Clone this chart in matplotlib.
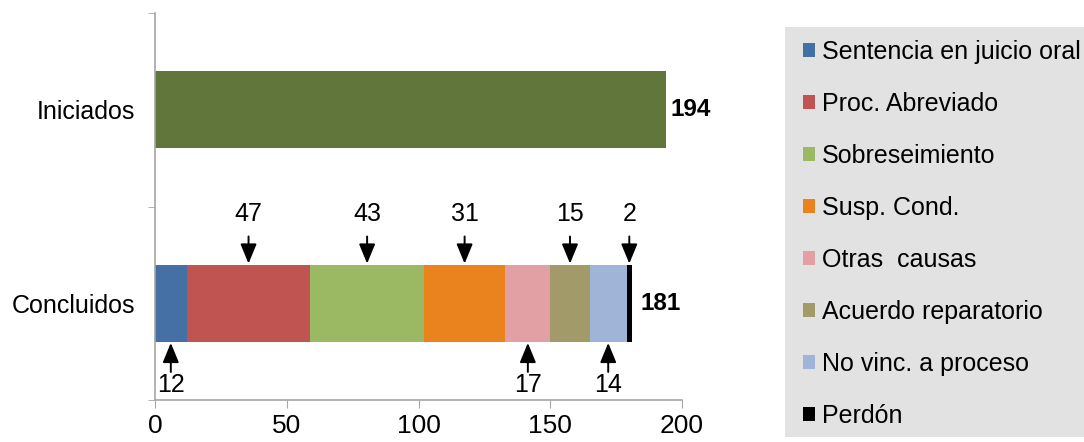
import matplotlib
matplotlib.use('Agg')
import matplotlib.pyplot as plt
from matplotlib.patches import Patch, Rectangle

plt.rcParams['font.family'] = ['Liberation Sans', 'DejaVu Sans']

# data
categories = ['Concluidos', 'Iniciados']
iniciados_total = 194
causas = ['Sentencia en juicio oral', 'Proc. Abreviado', 'Sobreseimiento', 'Susp. Cond.',
          'Otras  causas', 'Acuerdo reparatorio', 'No vinc. a proceso', 'Perdón']
concluidos = [12, 47, 43, 31, 17, 15, 14, 2]
label_side = ['below', 'above', 'above', 'above', 'below', 'above', 'below', 'above']

colors = ['#4470a6', '#c05450', '#9bb862', '#ea821e', '#e3a0a4', '#a39a6a', '#a0b4d8', '#000000']
green_dark = '#60763a'
axis_gray = '#a6a6a6'

fig = plt.figure(figsize=(10.84, 4.42), dpi=100)
ax = fig.add_axes([155/1084, 1 - 400/442, (682 - 155)/1084, 387/442])

arrow_style = dict(arrowstyle='-|>,head_length=0.8,head_width=0.33',
                   color='black', lw=1.4, mutation_scale=15, shrinkA=0, shrinkB=0)

# Iniciados
ax.barh(1, iniciados_total, height=0.4, color=green_dark, edgecolor='none')
ax.annotate(str(iniciados_total), xy=(iniciados_total, 1), xytext=(3, 0),
            textcoords='offset points', va='center', ha='left',
            fontsize=17.5, fontweight='bold')

# Concluidos stacked
left = 0
for val, col, side in zip(concluidos, colors, label_side):
    ax.barh(0, val, left=left, height=0.4, color=col, edgecolor='none')
    mid = left + val / 2
    if side == 'above':
        ax.annotate('', xy=(mid, 0.205), xytext=(mid, 0.345), arrowprops=arrow_style)
        ax.text(mid, 0.46, str(val), ha='center', va='center', fontsize=18)
    else:
        ax.annotate('', xy=(mid, -0.205), xytext=(mid, -0.355), arrowprops=arrow_style)
        ax.text(mid, -0.425, str(val), ha='center', va='center', fontsize=18)
    left += val

ax.annotate(str(sum(concluidos)), xy=(left, 0), xytext=(6, 0),
            textcoords='offset points', va='center', ha='left',
            fontsize=17.5, fontweight='bold')

ax.set_xlim(0, 200)
ax.set_ylim(-0.5, 1.5)
ax.set_xticks([0, 50, 100, 150, 200])
ax.tick_params(axis='x', labelsize=19, length=6, color=axis_gray, pad=4)
ax.set_yticks([0, 1])
ax.set_yticklabels(categories)
ax.tick_params(axis='y', labelsize=18, length=0, pad=14)
ax.set_yticks([-0.5, 0.5, 1.5], minor=True)
ax.tick_params(axis='y', which='minor', length=5, color=axis_gray)
for s in ['top', 'right']:
    ax.spines[s].set_visible(False)
for s in ['left', 'bottom']:
    ax.spines[s].set_color(axis_gray)
    ax.spines[s].set_linewidth(1.2)

# legend box (grey panel running off the right edge)
fig.patches.append(Rectangle((785/1084, 5/442), (1084 - 785)/1084 + 0.01, 410/442,
                             transform=fig.transFigure, facecolor='#e2e2e2',
                             edgecolor='none', zorder=0))
handles = [Patch(facecolor=c, edgecolor='none') for c in colors]
leg = fig.legend(handles, causas, loc='upper left', bbox_to_anchor=(803/1084, 1 - 40/442),
                 bbox_transform=fig.transFigure, fontsize=18, frameon=False,
                 borderaxespad=0, borderpad=0,
                 handlelength=0.48, handleheight=0.48, handletextpad=0.28,
                 labelspacing=1.12)

fig.savefig('out.png', dpi=100)
